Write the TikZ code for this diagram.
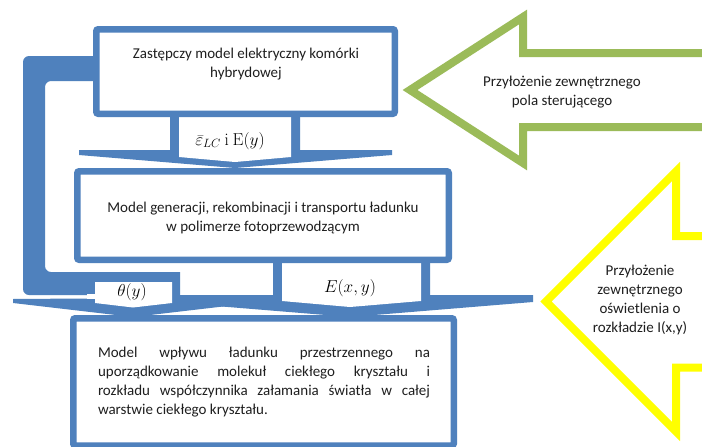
\documentclass[tikz,border=0pt]{standalone}
\usepackage[no-math]{fontspec}
\setmainfont{Carlito}
\definecolor{boxblue}{RGB}{79,129,189}
\definecolor{arrgreen}{RGB}{155,187,89}
\definecolor{arryellow}{RGB}{255,255,0}
\tikzset{
  modelbox/.style={draw=boxblue, line width=6.5pt, fill=white, rounded corners=2pt, inner sep=0pt},
  blueshape/.style={fill=boxblue},
  whiteshape/.style={fill=white},
  bigarrow/.style={line width=8pt, fill=white, line join=miter},
  txt/.style={font=\fontsize{15}{19}\selectfont, text=black!88, align=center, inner sep=0pt},
  mathlab/.style={font=\fontsize{16.5}{18}\selectfont, text=black, inner sep=0pt}
}
\begin{document}
\begin{tikzpicture}[x=1pt,y=-1pt]
\clip (0,0) rectangle (702,447);
\fill[white] (0,0) rectangle (702,447);
% blue block arrows (outer parts)
\fill[blueshape] (87,272) -- (180,272) -- (180,296) -- (253,297) -- (253,303) -- (133,317) -- (13,303) -- (13,299) -- (87,298.5) -- cycle;
\fill[blueshape] (273,258) -- (430,258) -- (430,295) -- (533,295) -- (533,302) -- (350,317) -- (167,302) -- (167,295) -- (273,295) -- cycle;
\fill[blueshape] (170,110) -- (300,110) -- (300,150) -- (392,150) -- (392,155) -- (235,168) -- (79,155) -- (79,150) -- (170,150) -- cycle;
% feedback bar
\fill[blueshape, rounded corners=6pt] (100,56) -- (23,56) -- (23,295) -- (95,295) -- (95,272) -- (45,272) -- (45,81) -- (100,81) -- cycle;
% white interiors of block arrows
\fill[whiteshape] (95,282) -- (172,282) -- (172,303) -- (133,307.5) -- (95,303) -- cycle;
\fill[whiteshape] (87,294) rectangle (95,298.5);
\fill[whiteshape] (282,258) -- (421,258) -- (421,301) -- (350,307) -- (282,301) -- cycle;
\fill[whiteshape] (179,110) -- (291,110) -- (291,157) -- (235,162) -- (179,157) -- cycle;
% model boxes
\node[modelbox, minimum width=298.5pt, minimum height=84.5pt] (b1) at (245.5,71.5) {};
\node[modelbox, minimum width=371.5pt, minimum height=88.5pt] (b2) at (263,215.5) {};
\node[modelbox, minimum width=380.5pt, minimum height=127.25pt] (b3) at (263.5,381.9) {};
% input arrows
\draw[bigarrow, draw=arrgreen] (720,53) -- (523,53) -- (523,17) -- (410,90) -- (523,163) -- (523,127) -- (720,127);
\draw[bigarrow, draw=arryellow] (720,236) -- (676,236) -- (676,171.5) -- (546,301.5) -- (676,431.5) -- (676,367.5) -- (720,367.5);
% texts
\node[txt] (t1) at (246,64.5) {Zastępczy model elektryczny komórki\\hybrydowej};
\node[txt] (t2) at (263,217.5) {Model generacji, rekombinacji i transportu ładunku\\w polimerze fotoprzewodzącym};
\node[txt, align=left] (t3) at (264,382) {%
\makebox[332pt][s]{Model wpływu ładunku przestrzennego na}\\
\makebox[332pt][s]{uporządkowanie molekuł ciekłego kryształu i}\\
\makebox[332pt][s]{rozkładu współczynnika załamania światła w całej}\\
\makebox[332pt][l]{warstwie ciekłego kryształu.}};
\node[txt] (t4) at (562,92.5) {Przyłożenie zewnętrznego\\pola sterującego};
\node[txt] (t5) at (640,300) {Przyłożenie\\zewnętrznego\\oświetlenia o\\rozkładzie I(x,y)};
\node[mathlab] (l1) at (230,141) {$\bar{\varepsilon}_{LC}\ \mathrm{i}\ \mathrm{E}(y)$};
\node[mathlab] (l2) at (132,292) {$\theta(y)$};
\node[mathlab] (l3) at (350,288) {$E(x,y)$};
\end{tikzpicture}
\end{document}
